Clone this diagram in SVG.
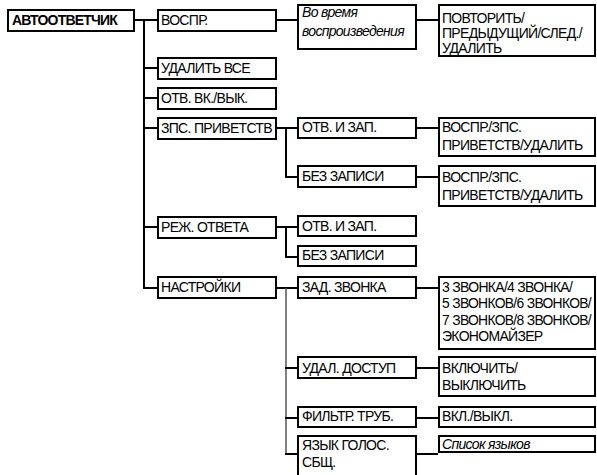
<svg xmlns="http://www.w3.org/2000/svg" width="597" height="475" viewBox="0 0 597 475">
<style>
.box{fill:#fff;stroke:#000;stroke-width:2}
.ln{fill:none;stroke:#000;stroke-width:2}
.gl{fill:none;stroke:#555;stroke-width:1.5}
text{font-family:"Liberation Sans",Arial,sans-serif;font-size:14px;letter-spacing:-0.7px;fill:#000}
.b{font-weight:bold;letter-spacing:-0.8px}
.i{font-style:italic}
</style>
<rect width="597" height="475" fill="#fff"/>
<g id="connectors">
<path class="ln" d="M135,20 H157 M144,20 V288 H157 M144,68 H157 M144,98 H157 M144,128 H157 M144,227 H157"/>
<path class="ln" d="M277,20 H297 M417,20 H438"/>
<path class="ln" d="M277,128 H297 M286,128 V177 H297 M417,128 H438 M417,177 H438"/>
<path class="ln" d="M277,227 H297 M286,227 V257 H297"/>
<path class="ln" d="M277,288 H297"/>
<path class="gl" d="M286,288 V454"/>
<path class="ln" d="M285,368 H297 M285,418 H297 M285,454 H297"/>
<path class="ln" d="M417,288 H438 M417,368 H438 M417,418 H438 M417,454 H438"/>
</g>
<g id="n-avto"><rect class="box" x="8" y="10" width="126" height="21"/><text class="b" x="12" y="25">АВТООТВЕТЧИК</text></g>
<g id="n-vospr"><rect class="box" x="158" y="10" width="118" height="21"/><text x="161" y="25">ВОСПР.</text></g>
<g id="n-udalit-vse"><rect class="box" x="158" y="58" width="118" height="21"/><text x="161" y="73">УДАЛИТЬ ВСЕ</text></g>
<g id="n-otv-vk"><rect class="box" x="158" y="88" width="118" height="21"/><text x="161" y="103">ОТВ. ВК./ВЫК.</text></g>
<g id="n-zps"><rect class="box" x="158" y="118" width="118" height="21"/><text x="161" y="133">ЗПС. ПРИВЕТСТВ</text></g>
<g id="n-rezh"><rect class="box" x="158" y="217" width="118" height="21"/><text x="161" y="232">РЕЖ. ОТВЕТА</text></g>
<g id="n-nastr"><rect class="box" x="158" y="277" width="118" height="21"/><text x="161" y="292">НАСТРОЙКИ</text></g>
<g id="n-vo-vremya"><rect class="box" x="298" y="5" width="118" height="44"/><text class="i" x="302" y="17">Во время</text><text class="i" x="302" y="36">воспроизведения</text></g>
<g id="n-otv-zap1"><rect class="box" x="298" y="118" width="118" height="20"/><text x="302" y="132">ОТВ. И ЗАП.</text></g>
<g id="n-bez1"><rect class="box" x="298" y="166" width="118" height="21"/><text x="302" y="181">БЕЗ ЗАПИСИ</text></g>
<g id="n-otv-zap2"><rect class="box" x="298" y="216" width="118" height="20"/><text x="302" y="231">ОТВ. И ЗАП.</text></g>
<g id="n-bez2"><rect class="box" x="298" y="246" width="118" height="20"/><text x="302" y="260">БЕЗ ЗАПИСИ</text></g>
<g id="n-zad"><rect class="box" x="298" y="277" width="118" height="21"/><text x="302" y="292">ЗАД. ЗВОНКА</text></g>
<g id="n-udal-dostup"><rect class="box" x="298" y="357" width="118" height="21"/><text x="302" y="372.5">УДАЛ. ДОСТУП</text></g>
<g id="n-filtr"><rect class="box" x="298" y="407" width="118" height="20"/><text x="302" y="421">ФИЛЬТР. ТРУБ.</text></g>
<g id="n-yazyk"><rect class="box" x="298" y="436" width="118" height="50"/><text x="302" y="450">ЯЗЫК ГОЛОС.</text><text x="302" y="467">СБЩ.</text></g>
<g id="n-povtor"><rect class="box" x="439" y="5" width="156" height="51"/><text x="442" y="22.5">ПОВТОРИТЬ/</text><text x="442" y="38">ПРЕДЫДУЩИЙ/СЛЕД./</text><text x="442" y="53">УДАЛИТЬ</text></g>
<g id="n-vospr-zps1"><rect class="box" x="439" y="118" width="156" height="38"/><text x="442" y="132">ВОСПР./ЗПС.</text><text x="442" y="150">ПРИВЕТСТВ/УДАЛИТЬ</text></g>
<g id="n-vospr-zps2"><rect class="box" x="439" y="166" width="156" height="40"/><text x="442" y="182">ВОСПР./ЗПС.</text><text x="442" y="200">ПРИВЕТСТВ/УДАЛИТЬ</text></g>
<g id="n-zvonki"><rect class="box" x="439" y="277" width="156" height="72"/><text x="442" y="291.5">3 ЗВОНКА/4 ЗВОНКА/</text><text x="442" y="308" textLength="149" lengthAdjust="spacingAndGlyphs">5 ЗВОНКОВ/6 ЗВОНКОВ/</text><text x="442" y="324.5" textLength="149" lengthAdjust="spacingAndGlyphs">7 ЗВОНКОВ/8 ЗВОНКОВ/</text><text x="442" y="340.5">ЭКОНОМАЙЗЕР</text></g>
<g id="n-vkl"><rect class="box" x="439" y="357" width="156" height="39"/><text x="442" y="373">ВКЛЮЧИТЬ/</text><text x="442" y="390">ВЫКЛЮЧИТЬ</text></g>
<g id="n-vkl-vykl"><rect class="box" x="439" y="407" width="156" height="20"/><text x="442" y="421">ВКЛ./ВЫКЛ.</text></g>
<g id="n-spisok"><rect class="box" x="439" y="436" width="156" height="16"/><text class="i" x="442" y="449">Список языков</text></g>
</svg>
